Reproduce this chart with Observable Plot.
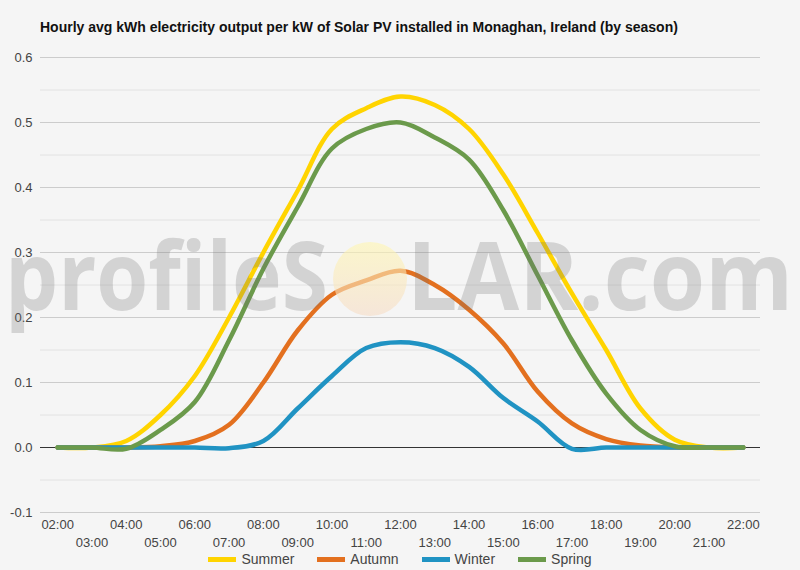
<!DOCTYPE html>
<html><head><meta charset="utf-8">
<script src="https://cdn.jsdelivr.net/npm/d3@7"></script>
<script src="https://cdn.jsdelivr.net/npm/@observablehq/plot@0.6"></script>
<style>
html,body{margin:0;padding:0;background:#f5f5f5;font-family:"Liberation Sans",Arial,sans-serif;}
#wrap{position:relative;width:800px;height:570px;overflow:hidden;background:#f5f5f5;}
#title{position:absolute;left:40px;top:19px;font-size:14px;font-weight:bold;color:#111;white-space:nowrap;}
#chart{position:absolute;left:0;top:40px;}
#wm{position:absolute;left:0;top:0;pointer-events:none;}
#legend{position:absolute;left:0;top:549px;width:800px;height:20px;display:flex;justify-content:center;align-items:center;gap:23px;font-size:14px;color:#444;}
.item{display:flex;align-items:center;}
.sw{width:28px;height:5px;margin-right:5px;}
</style></head>
<body>
<div id="wrap">
  <div id="title"></div>
  <div id="chart"></div>
  <svg id="wm" width="800" height="570">
    <defs>
      <linearGradient id="sun" x1="0" y1="0" x2="0" y2="1">
        <stop offset="0" stop-color="#fff6b0"/>
        <stop offset="1" stop-color="#f6dcc6"/>
      </linearGradient>
    </defs>
    <circle cx="370" cy="279" r="37" fill="url(#sun)" fill-opacity="0.6"/>
    <g font-size="95" font-family="Open Sans, Liberation Sans, Arial, sans-serif" font-weight="bold" fill="rgb(110,110,110)" fill-opacity="0.25">
      <text x="5" y="310" textLength="323" lengthAdjust="spacingAndGlyphs">profileS</text>
      <text x="407" y="310" textLength="386" lengthAdjust="spacingAndGlyphs">LAR.com</text>
    </g>
  </svg>
  <div id="legend"></div>
</div>
<script>
const titleText = "Hourly avg kWh electricity output per kW of Solar PV installed in Monaghan, Ireland (by season)";
const hours = ["02:00","03:00","04:00","05:00","06:00","07:00","08:00","09:00","10:00","11:00","12:00","13:00","14:00","15:00","16:00","17:00","18:00","19:00","20:00","21:00","22:00"];
const seasons = ["Summer","Autumn","Winter","Spring"];
const colors = ["#ffd400","#e3701f","#2093c3","#6b9a4b"];
const summer = [0, 0, 0.01, 0.05, 0.11, 0.2, 0.3, 0.395, 0.49, 0.522, 0.54, 0.527, 0.49, 0.42, 0.33, 0.237, 0.15, 0.06, 0.012, 0, 0];
const autumn = [0, 0, 0, 0.002, 0.01, 0.035, 0.1, 0.18, 0.235, 0.257, 0.272, 0.25, 0.212, 0.16, 0.086, 0.037, 0.013, 0.003, 0, 0, 0];
const winter = [0, 0, 0, 0, 0, -0.001, 0.01, 0.06, 0.11, 0.153, 0.162, 0.153, 0.124, 0.076, 0.04, -0.002, 0, 0, 0, 0, 0];
const spring = [0, 0, -0.002, 0.027, 0.07, 0.165, 0.275, 0.37, 0.46, 0.49, 0.5, 0.477, 0.443, 0.365, 0.265, 0.165, 0.083, 0.027, 0.002, 0, 0];
const majorTicks = [-0.1, 0, 0.1, 0.2, 0.3, 0.4, 0.5, 0.6];
const minorTicks = [-0.05, 0.05, 0.15, 0.25, 0.35, 0.45, 0.55];

document.getElementById("title").textContent = titleText;

const series = [summer, autumn, winter, spring];
const rows = [];
series.forEach((vals, si) => vals.forEach((v, i) => rows.push({hour: i + 2, value: v, season: seasons[si]})));
const hourNums = hours.map((h, i) => i + 2);
const evenHours = hourNums.filter(h => h % 2 === 0);
const oddHours = hourNums.filter(h => h % 2 === 1);
const fmtHour = d => hours[d - 2];

const chart = Plot.plot({
  width: 800, height: 510,
  marginLeft: 40, marginRight: 40, marginTop: 17, marginBottom: 38,
  style: {background: "transparent", fontFamily: "Liberation Sans, Arial, sans-serif", fontSize: "13px", color: "#444"},
  x: {domain: [1.5, 22.5], axis: null, label: null},
  y: {domain: [-0.1, 0.6], axis: null, label: null},
  color: {domain: seasons, range: colors},
  marks: [
    Plot.ruleY(minorTicks, {stroke: "#e2e2e2", strokeWidth: 1}),
    Plot.ruleY(majorTicks, {stroke: "#cccccc", strokeWidth: 1}),
    Plot.ruleY([0], {stroke: "#333", strokeWidth: 1}),
    Plot.axisY(majorTicks, {tickSize: 0, tickPadding: 8, tickFormat: d => d.toFixed(1), fill: "#444", fontSize: 13, label: null}),
    Plot.axisX(evenHours, {tickSize: 0, tickPadding: 7, tickFormat: fmtHour, fill: "#444", fontSize: 13, label: null}),
    Plot.axisX(oddHours, {tickSize: 0, tickPadding: 25, tickFormat: fmtHour, fill: "#444", fontSize: 13, label: null}),
    Plot.line(rows, {x: "hour", y: "value", z: "season", stroke: "season", curve: "catmull-rom", strokeWidth: 4.5})
  ]
});
document.getElementById("chart").appendChild(chart);

const legend = document.getElementById("legend");
seasons.forEach((s, i) => {
  const it = document.createElement("div"); it.className = "item";
  const sw = document.createElement("div"); sw.className = "sw"; sw.style.background = colors[i];
  const tx = document.createElement("span"); tx.textContent = s;
  it.appendChild(sw); it.appendChild(tx); legend.appendChild(it);
});
</script>
</body></html>
